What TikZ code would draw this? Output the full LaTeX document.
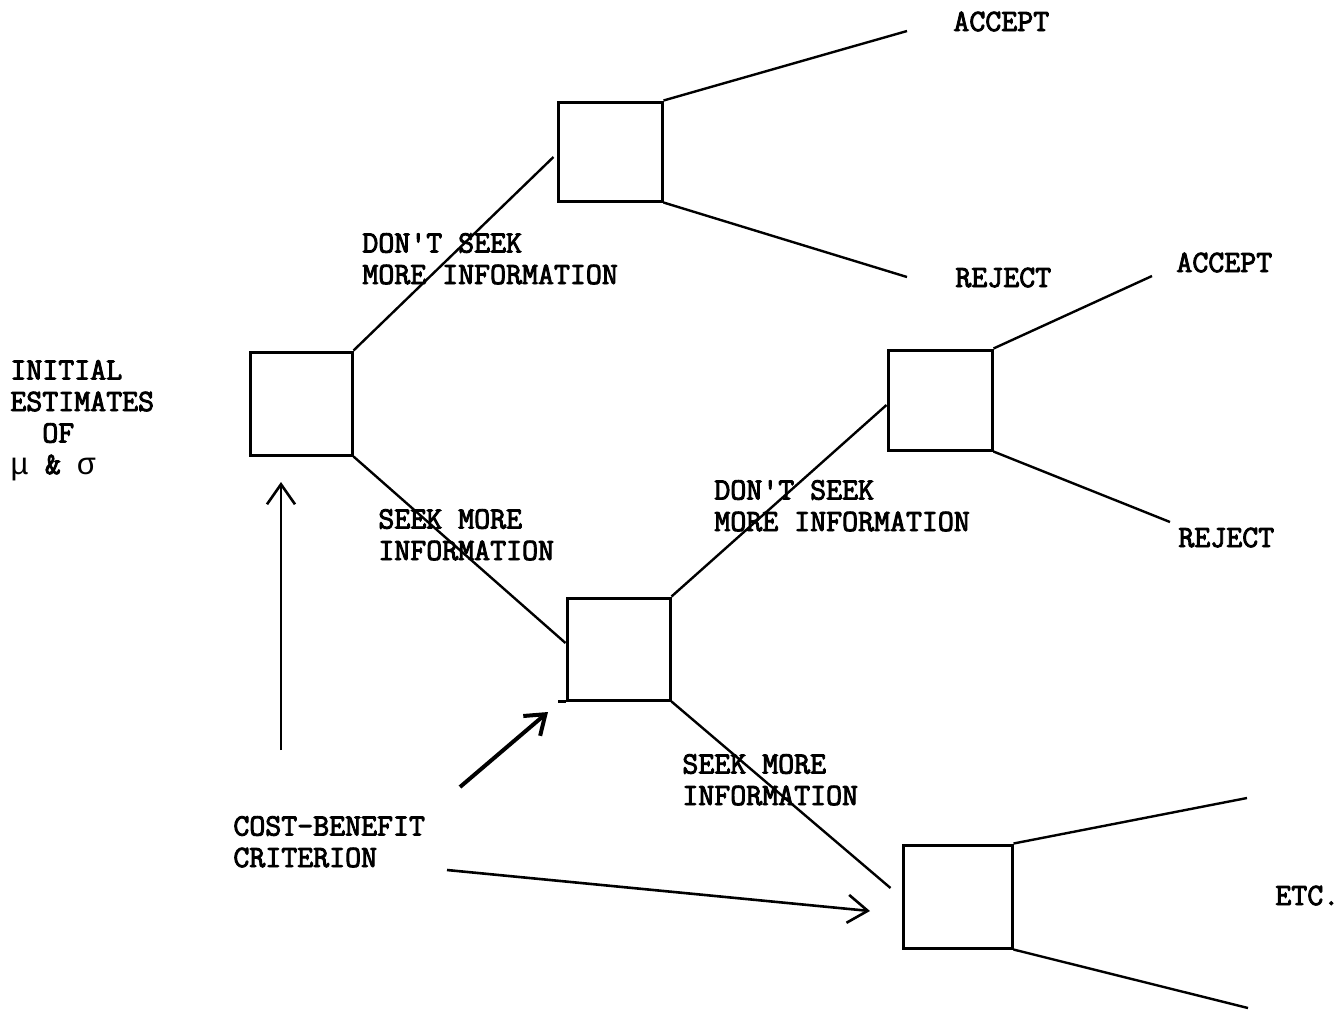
\documentclass[tikz,border=0pt]{standalone}
\usepackage{fontspec}
\newfontfamily\grk{Liberation Mono}
\newfontfamily\tw{Latin Modern Mono}[BoldFont={Latin Modern Mono},BoldFeatures={FakeBold=3}]
\usetikzlibrary{arrows.meta,calc}
\begin{document}
\begin{tikzpicture}[x=0.5pt,y=-0.5pt,
  box/.style={draw,line width=1.5pt,inner sep=0},
  conn/.style={line width=1.2pt},
  lbl/.style={font=\tw\bfseries\fontsize{15.5}{15.75}\selectfont,inner sep=0,anchor=base west,align=left},
  arr/.style={line width=1.3pt,-{Straight Barb[length=10pt,width=14pt]}},
  thickarr/.style={line width=2pt,-{Straight Barb[length=9pt,width=13pt]}}]
\useasboundingbox (0,0) rectangle (1340,1009);
% boxes
\node[box,minimum width=51pt,minimum height=51.5pt] (A) at (301,403.5) {};
\node[box,minimum width=52pt,minimum height=49.5pt] (B) at (610,151.5) {};
\node[box,minimum width=52pt,minimum height=50pt] (C) at (940,400) {};
\node[box,minimum width=51.5pt,minimum height=51pt] (D) at (618.5,649) {};
\node[box,minimum width=54.5pt,minimum height=51.5pt] (E) at (957.5,896.5) {};
\draw[line width=1.5pt] (D.south west) -- ++(-8,0);
% free ends
\coordinate (acc1) at (907,31);
\coordinate (rej1) at (907,277);
\coordinate (acc2) at (1152,276);
\coordinate (rej2) at (1170,522);
\coordinate (etc1) at (1247,798);
\coordinate (etc2) at (1248,1008);
% connectors
\draw[conn] (A.north east) -- ($(B.west)+(-3,5.5)$);
\draw[conn] (A.south east) -- ($(D.west)+(0,-6)$);
\draw[conn] (B.north east) -- (acc1);
\draw[conn] (B.south east) -- (rej1);
\draw[conn] (D.north east) -- ($(C.west)+(0,5)$);
\draw[conn] (C.north east) -- (acc2);
\draw[conn] (C.south east) -- (rej2);
\draw[conn] (D.south east) -- ($(E.west)+(-11,-8.5)$);
\draw[conn] (E.north east) -- (etc1);
\draw[conn] (E.south east) -- (etc2);
% labels (anchored at the baseline of the last line)
\node[lbl] (init) at (10,474) {INITIAL\\ESTIMATES\\\ \ OF\\{\grk\mdseries μ} \& {\grk\mdseries σ}};
\node[lbl] (l1) at (362,284) {DON'T SEEK\\MORE INFORMATION};
\node[lbl] (l2) at (378,560) {SEEK MORE\\INFORMATION};
\node[lbl] (l3) at (714,531) {DON'T SEEK\\MORE INFORMATION};
\node[lbl] (l4) at (682,805) {SEEK MORE\\INFORMATION};
\node[lbl] (cb) at (233,867) {COST-BENEFIT\\CRITERION};
\node[lbl] (t1) at (953,31) {ACCEPT};
\node[lbl] (t2) at (955,287) {REJECT};
\node[lbl] (t3) at (1176,272) {ACCEPT};
\node[lbl] (t4) at (1178,547) {REJECT};
\node[lbl] (t5) at (1275,905) {ETC.};
% arrows from criterion
\coordinate (s1) at (281,750);
\coordinate (s2) at (460,787);
\coordinate (s3) at (447,870);
\coordinate (e1) at (281,482);
\coordinate (e2) at (548,712);
\coordinate (e3) at (870,911);
\draw[arr] (s1) -- (e1);
\draw[thickarr] (s2) -- (e2);
\draw[arr] (s3) -- (e3);
\end{tikzpicture}
\end{document}
